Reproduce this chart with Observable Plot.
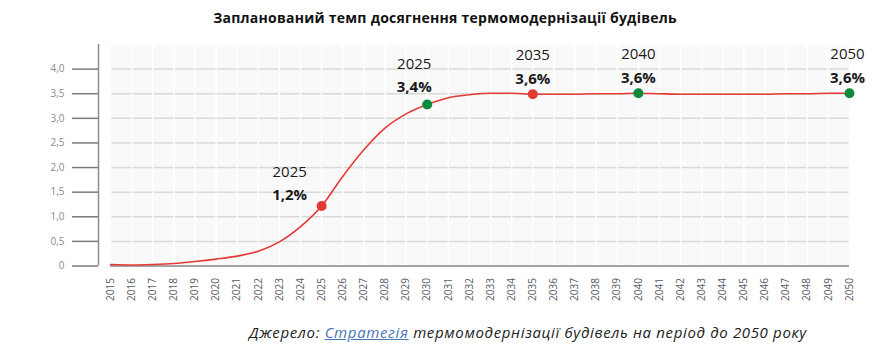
<!DOCTYPE html>
<html>
<head>
<meta charset="utf-8">
<script src="https://cdn.jsdelivr.net/npm/d3@7"></script>
<script src="https://cdn.jsdelivr.net/npm/@observablehq/plot@0.6"></script>
<style>
  html, body { margin: 0; padding: 0; background: #fff; }
  body { width: 890px; height: 362px; overflow: hidden; font-family: "Open Sans", sans-serif; }
  #title { height: 36px; line-height: 36px; text-align: center; font-weight: 700; font-size: 14px; letter-spacing: 0.25px; color: #111; }
  #chart svg { display: block; }
  #caption { margin-top: 12px; line-height: 20px; height: 20px; text-align: center; padding-left: 166px; font-style: italic; font-size: 15px; letter-spacing: 0.65px; color: #222; }
  #caption a { color: #4a74b4; text-decoration: underline; }
</style>
</head>
<body>
<div id="title">Запланований темп досягнення термомодернізації будівель</div>
<div id="chart"></div>
<div id="caption">Джерело: <a>Стратегія</a> термомодернізації будівель на період до 2050 року</div>
<script>
const years = d3.range(2015, 2051);
const rate = [
  0.03, 0.02, 0.03, 0.05, 0.09, 0.14, 0.20, 0.30, 0.49, 0.80,
  1.22, 1.82, 2.36, 2.80, 3.09, 3.28, 3.42, 3.48, 3.51, 3.51,
  3.49, 3.49, 3.49, 3.50, 3.50, 3.51, 3.50, 3.49, 3.49, 3.49,
  3.49, 3.49, 3.50, 3.50, 3.51, 3.51
];
const yTicks = [0, 0.5, 1, 1.5, 2, 2.5, 3, 3.5, 4];
const annYears = [2025, 2030, 2035, 2040, 2050];
const annLabels = ["2025", "2025", "2035", "2040", "2050"];
const annPct = ["1,2%", "3,4%", "3,6%", "3,6%", "3,6%"];
const annColors = ["#e53935", "#0b8a3b", "#e53935", "#0b8a3b", "#0b8a3b"];

const series = years.map((y, i) => ({year: y, value: rate[i]}));
const ann = annYears.map((y, i) => ({
  year: y, value: rate[years.indexOf(y)], label: annLabels[i], pct: annPct[i], color: annColors[i]
}));
const fmt = d => d === 0 ? "0" : d.toFixed(1).replace(".", ",");
const textFont = {fontSize: 15, fill: "#1a1a1a"};

function labels(filter, dx, dyYear, dyPct) {
  const d = ann.filter(filter);
  return [
    Plot.text(d, {x: "year", y: "value", text: "label", dx, dy: dyYear, ...textFont}),
    Plot.text(d, {x: "year", y: "value", text: "pct", dx, dy: dyPct, fontWeight: 700, ...textFont})
  ];
}

const chart = Plot.plot({
  width: 890,
  height: 274,
  marginLeft: 110,
  marginRight: 41,
  marginTop: 8,
  marginBottom: 44.5,
  x: {domain: [2015, 2050]},
  y: {domain: [0, 4.5]},
  style: {fontFamily: "'Open Sans', sans-serif", background: "transparent", overflow: "visible"},
  marks: [
    Plot.frame({fill: "#f9f9f9", stroke: null}),
    Plot.gridY(yTicks.filter(d => d > 0), {stroke: "#d9d9d9", strokeOpacity: 1, strokeWidth: 1.5}),
    Plot.gridX(years, {stroke: "#ffffff", strokeOpacity: 1, strokeWidth: 1.5}),
    Plot.ruleY([0], {stroke: "#a3a3a3", strokeWidth: 2}),
    Plot.ruleX([2015], {y1: 0, y2: 4.5, dx: -12, stroke: "#8c8c8c", strokeWidth: 1.5}),
    Plot.axisY(yTicks, {label: null, tickSize: 26, dx: -12, tickPadding: 8, tickFormat: fmt,
      fill: "#8a8a8a", stroke: "#7a7a7a", strokeWidth: 1.5, fontSize: 10}),
    Plot.axisX(years, {label: null, tickSize: 0, tickRotate: -90, tickPadding: 12, tickFormat: d => String(d),
      fill: "#555a66", fontSize: 10}),
    Plot.line(series, {x: "year", y: "value", stroke: "#e53935", strokeWidth: 1.6, curve: "monotone-x"}),
    Plot.dot(ann, {x: "year", y: "value", fill: "color", r: 5}),
    ...labels(d => d.year === 2025, -32, -34, -11),
    ...labels(d => d.year === 2030, -13, -40, -17),
    ...labels(d => d.year === 2035 || d.year === 2040, 0, -39, -15),
    ...labels(d => d.year === 2050, -2, -39, -15)
  ]
});
document.getElementById("chart").appendChild(chart);
</script>
</body>
</html>
